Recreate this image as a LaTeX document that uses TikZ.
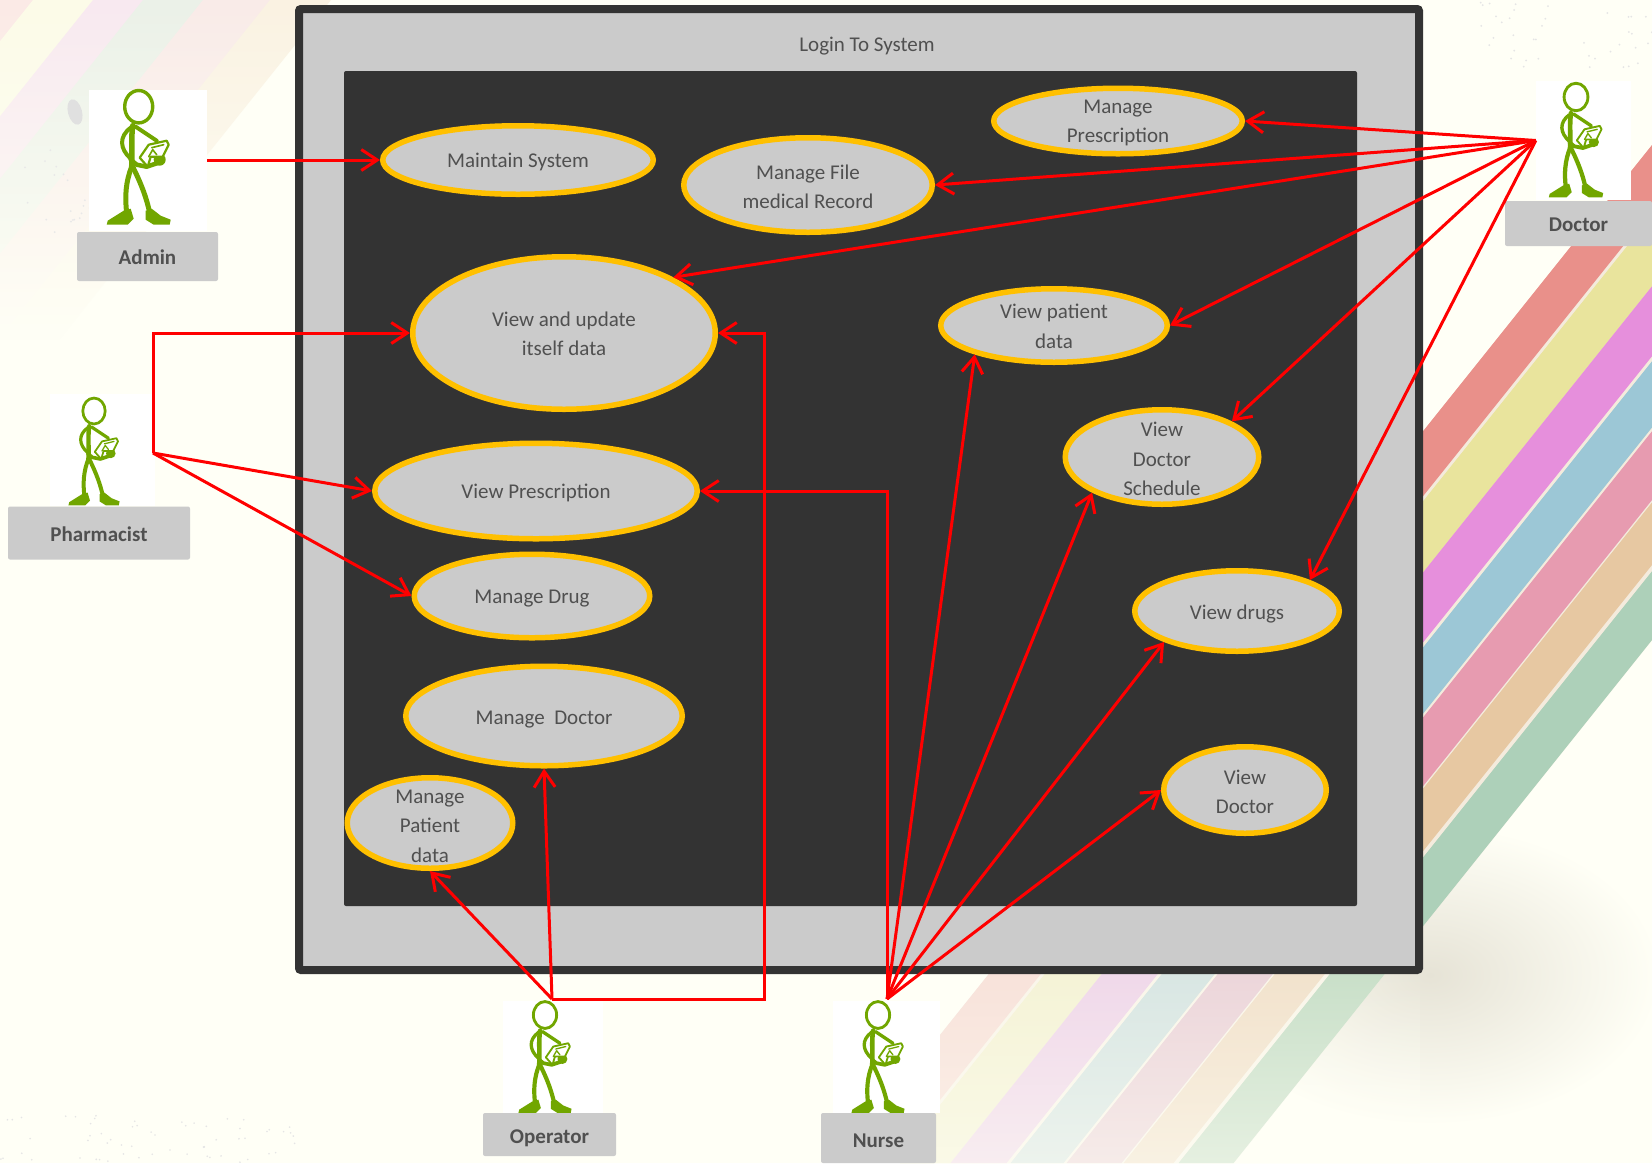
\documentclass[tikz,border=0pt]{standalone}
\usepackage{fontspec}
\setmainfont{Carlito}
\usetikzlibrary{shapes.geometric,arrows.meta,calc,fadings}
\definecolor{bgc}{HTML}{FFFFF6}
\definecolor{panel}{HTML}{CBCBCB}
\definecolor{darkc}{HTML}{333333}
\definecolor{ucline}{HTML}{FFC000}
\definecolor{txtc}{HTML}{505050}
\definecolor{figc}{HTML}{71A600}
\definecolor{shadowc}{HTML}{E6E3D6}
\tikzfading[name=fadefull,top color=transparent!100,bottom color=transparent!0]
\tikzfading[name=fadehalf,top color=transparent!100,bottom color=transparent!45]
\tikzset{
  uc/.style={ellipse,draw=ucline,fill=panel,line width=5.5pt,inner sep=0pt},
  uctext/.style={text=txtc,align=center,inner sep=0pt,font=\fontsize{21}{29.5}\selectfont},
  actorbox/.style={rectangle,fill=white,inner sep=0pt},
  actorlabel/.style={rectangle,fill=panel,rounded corners=2pt,inner sep=0pt,text=txtc,text depth=0pt,font=\fontsize{21}{24}\selectfont\bfseries},
  link/.style={draw=red,line width=3pt,line join=miter,-{Straight Barb[length=16pt,width=21pt,line width=3pt]}}
}
% \ucase[text dy]{name}{x}{y}{outer rx}{outer ry}{text}
\newcommand\ucase[7][2]{%
  \node[uc,minimum width=#5*2pt-5.5pt,minimum height=#6*2pt-5.5pt] (#2) at (#3,#4) {};
  \node[uctext] (#2-t) at (#3,#4+#1) {#7};
}
% \actorfig{x}{y}{scale}
\newcommand\actorfig[3]{%
  \begin{scope}[shift={(#1,#2)},scale=#3,draw=figc,fill=figc,line cap=round,line join=round]
    \draw[line width=#3*3.4pt] (0,0) ellipse [x radius=14,y radius=16.2];
    \draw[line width=#3*5.5pt] (-6,19) .. controls (-8,35) and (-6,45) .. (-7,60);
    \draw[line width=#3*4pt] (-8,21) .. controls (-20,30) and (-19,42) .. (-8,52);
    \draw[line width=#3*4pt] (-3,20) -- (18,34);
    \draw[line width=#3*5pt] (-7,60) .. controls (-13,75) and (-14,90) .. (-12,106);
    \draw[line width=#3*5pt] (-6,60) .. controls (3,78) and (8,92) .. (11,106);
    \fill (-8,102) -- (-15,104) -- (-31,114) -- (-32,118) -- (-11,118) -- (-5,112) -- cycle;
    \fill (7,104) -- (13,102) -- (22,109) -- (32,113) -- (31,118) -- (15,118) -- (7,113) -- cycle;
    \draw[line width=#3*4.5pt] (-8,53) -- (-2,58) -- (8,60) -- (20,56);
    \fill (21,53) circle (6);
    \draw[line width=#3*2.2pt,fill=white] (1,51) -- (10,38) -- (28,34) -- (30,38) -- (24,50) -- (12,50) -- (9,60) -- cycle;
    \draw[line width=#3*1.6pt] (13,41) -- (25,38) (10,50) -- (14,43) -- (18,48);
  \end{scope}
}
\newcommand\stripe[5]{%
  \definecolor{stripetop}{HTML}{#3}%
  \fill[stripetop] ({#1+(975-#4)*0.8},#4) -- ({#2+(975-#4)*0.8},#4) -- ({#2+(975-#5)*0.8},#5) -- ({#1+(975-#5)*0.8},#5) -- cycle;
}
\newcommand\pale[4]{%
  \definecolor{stripetop}{HTML}{#3}%
  \fill[stripetop] ({#1},0) -- ({#2+1},0) -- ({#2+1-#4*0.8},#4) -- ({#1-#4*0.8},#4) -- cycle;
}
\begin{document}
\begin{tikzpicture}[x=1pt,y=-1pt]
\useasboundingbox (0,0) rectangle (1652,1163);
\fill[bgc] (0,0) rectangle (1652,1163);
\begin{scope}
  \clip (0,0) rectangle (1652,1163);
  % top-left faded stripes
  \pale{-20}{33}{FBEAE6}{339}
  \pale{33}{93}{FCFBE8}{339}
  \pale{93}{143}{F8E9F0}{339}
  \pale{143}{203}{EBF1E8}{339}
  \pale{203}{270}{F9EBE8}{339}
  \pale{270}{330}{FAF2E2}{339}
  \fill[bgc,path fading=fadefull] (-1,-1) rectangle (340,340);
  % shadow under the band
  \shade[inner color=shadowc,outer color=bgc] (1430,975) ellipse [x radius=230,y radius=150];
  % strong stripes on the right
  \begin{scope}
    \clip (1400,0) rectangle (1652,1000);
    \stripe{988}{1384}{F4EBDD}{100}{980}
    \stripe{988}{1040}{E9908A}{100}{980}
    \stripe{1044}{1101}{E9E49D}{100}{980}
    \stripe{1101}{1157}{E68FDC}{100}{980}
    \stripe{1161}{1214}{9CC7D6}{100}{980}
    \stripe{1217}{1272}{E79BB0}{100}{980}
    \stripe{1274}{1324}{E7C8A2}{100}{980}
    \stripe{1329}{1384}{ADD0B9}{100}{980}
  \end{scope}
  % pale stripes at the bottom
  \begin{scope}
    \clip (900,965) rectangle (1652,1163);
    \stripe{988}{1384}{FAF6EA}{965}{1163}
    \stripe{988}{1040}{F8E2DA}{965}{1163}
    \stripe{1044}{1101}{F5F3D6}{965}{1163}
    \stripe{1101}{1157}{F0D8EA}{965}{1163}
    \stripe{1161}{1214}{D8E6E3}{965}{1163}
    \stripe{1217}{1272}{ECD5DA}{965}{1163}
    \stripe{1274}{1324}{F2E2CC}{965}{1163}
    \stripe{1329}{1384}{C8DFC8}{965}{1163}
    \fill[bgc,path fading=fadehalf] (900,965) rectangle (1420,1164);
  \end{scope}
  % specks of the paper
  \fill[black!12,rotate around={15:(75,112)}] (75,112) ellipse [x radius=7,y radius=13];
  \pgfmathsetseed{4711}
  \foreach \i in {1,...,60} {
    \pgfmathsetmacro\px{rnd*300}\pgfmathsetmacro\py{1115+rnd*48}
    \fill[black!10] (\px,\py) circle (0.9);
  }
  \foreach \i in {1,...,40} {
    \pgfmathsetmacro\px{1480+rnd*172}\pgfmathsetmacro\py{rnd*70}
    \fill[black!10] (\px,\py) circle (1);
  }
  \foreach \i in {1,...,30} {
    \pgfmathsetmacro\px{20+rnd*80}\pgfmathsetmacro\py{150+rnd*110}
    \fill[black!9] (\px,\py) circle (1);
  }
\end{scope}

% system boundary
\node[rectangle,draw=darkc,fill=panel,line width=8pt,rounded corners=2pt,inner sep=0pt,minimum width=1120pt,minimum height=961pt] (system) at (859,489.5) {};
\node[rectangle,fill=darkc,rounded corners=2pt,inner sep=0pt,minimum width=1013pt,minimum height=835pt] (inner) at (850.5,488.5) {};
\node[uctext] (login) at (867,46) {Login To System};

% use cases
\ucase{maint}{518}{160}{138}{37}{Maintain System}
\ucase{mpres}{1118}{121}{127}{35.5}{Manage\\Prescription}
\ucase{mfile}{808}{185}{127}{50}{Manage File\\medical Record}
\ucase[1]{update}{564}{333}{154}{79}{View and update\\itself data}
\ucase[1]{vpat}{1054}{325.5}{116}{39.5}{View patient\\data}
\ucase{vsch}{1162}{457}{99.5}{50}{View\\Doctor\\Schedule}
\ucase{vpres}{536}{491}{164}{50.5}{View Prescription}
\ucase[3]{mdrug}{532}{596}{120.5}{44.5}{Manage Drug}
\ucase[3]{vdrug}{1237}{611}{105}{43}{View drugs}
\ucase[4]{mdoc}{544}{716}{141}{52.5}{Manage\ \ Doctor}
\ucase[3]{mpat}{430}{823}{85.5}{48}{Manage\\Patient\\data}
\ucase{vdoc}{1245}{790}{84}{46}{View\\Doctor}

% actors
\node[actorbox,minimum width=118pt,minimum height=141pt] (admin) at (148,160) {};
\actorfig{138.7}{106.7}{1}
\node[actorlabel,minimum width=141pt,minimum height=49pt,text height=15pt] (adminl) at (147.5,256.5) {Admin};

\node[actorbox,minimum width=95pt,minimum height=119pt] (doctor) at (1583.5,140.5) {};
\actorfig{1576}{97}{0.85}
\node[actorlabel,minimum width=147pt,minimum height=45pt,text height=15pt] (doctorl) at (1578.5,223.5) {Doctor};

\node[actorbox,minimum width=105pt,minimum height=112pt] (pharm) at (102,450) {};
\actorfig{94}{411}{0.8}
\node[actorlabel,minimum width=182pt,minimum height=53pt,text height=17pt] (pharml) at (99,533) {Pharmacist};

\node[actorbox,minimum width=100pt,minimum height=112pt] (oper) at (553,1057) {};
\actorfig{545}{1015}{0.83}
\node[actorlabel,minimum width=133pt,minimum height=43pt,text height=17pt] (operl) at (549.5,1134.5) {Operator};

\node[actorbox,minimum width=107pt,minimum height=112pt] (nurse) at (886.5,1057) {};
\actorfig{878}{1015}{0.83}
\node[actorlabel,minimum width=115pt,minimum height=50pt,text height=18pt] (nursel) at (878.5,1138) {Nurse};

% free ends of the connectors on the actors
\coordinate (pharmout) at (153,453);
\coordinate (operout) at (552,999);
\coordinate (nurseout) at (887,999);
\coordinate (opturn) at (764,999);

% connectors
\draw[link] (admin.east) -- (maint.west);

\draw[link] (pharmout) -- (pharmout |- update.west) -- (update.west);
\draw[link] (pharmout) -- (vpres.west);
\draw[link] (pharmout) -- (mdrug.west);

\draw[link] (doctor.west) -- (mpres.east);
\draw[link] (doctor.west) -- (mfile.east);
\draw[link] (doctor.west) -- (update.27);
\draw[link] (doctor.west) -- (vpat.east);
\draw[link] (doctor.west) -- (vsch.27);
\draw[link] (doctor.west) -- (vdrug.23);

\draw[link] (operout) -- (mpat.south);
\draw[link] (operout) -- (mdoc.south);
\draw[link] (operout) -- (opturn) -- (opturn |- update.east) -- (update.east);

\draw[link] (nurseout) -- (nurseout |- vpres.east) -- (vpres.east);
\draw[link] (nurseout) -- (vpat.200);
\draw[link] (nurseout) -- (vsch.207);
\draw[link] (nurseout) -- (vdrug.203);
\draw[link] (nurseout) -- (vdoc.west);
\end{tikzpicture}
\end{document}
